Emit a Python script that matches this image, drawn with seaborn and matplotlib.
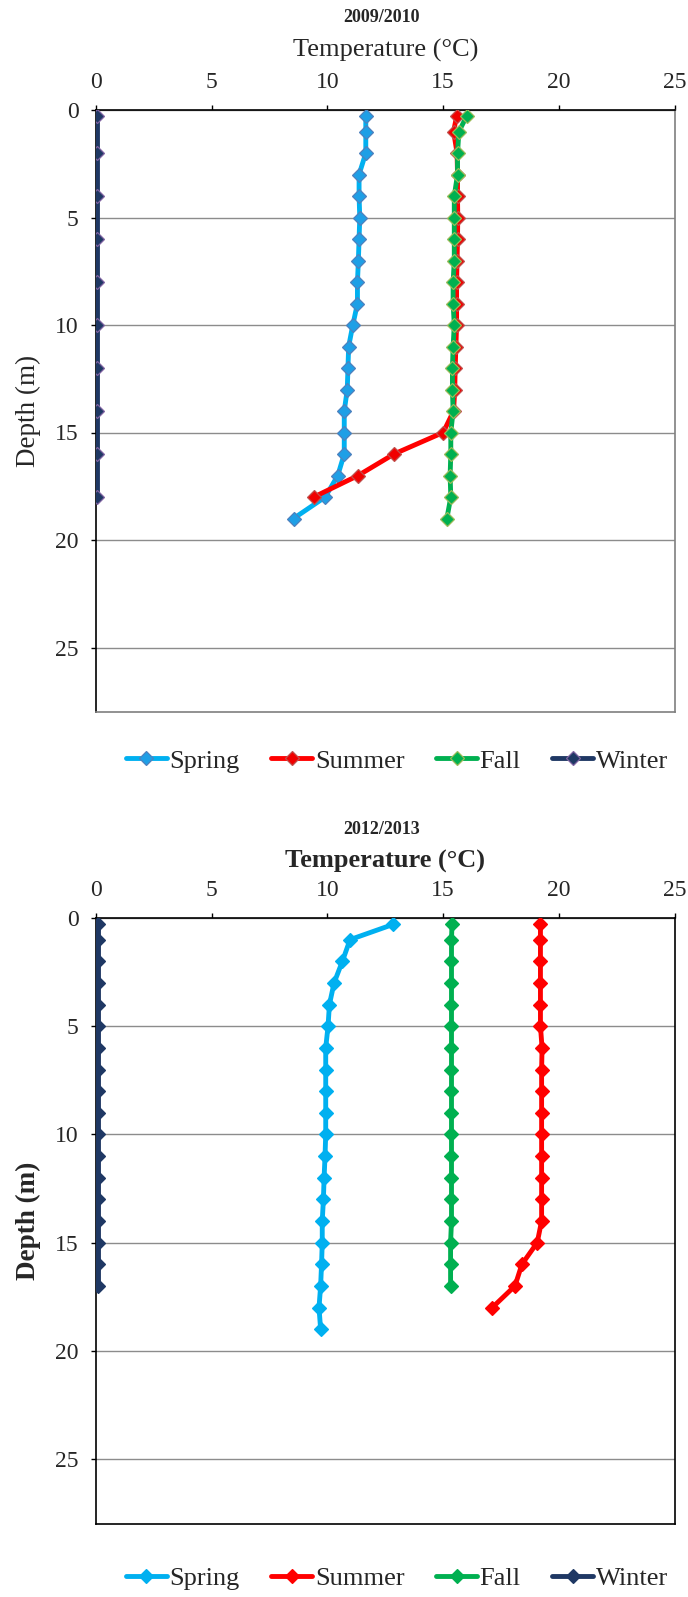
import numpy as np
import pandas as pd
import matplotlib
matplotlib.use("Agg")
import matplotlib.pyplot as plt
import seaborn as sns
from matplotlib.lines import Line2D

sns.set_theme(style="white")
plt.rcParams['font.family'] = ['Liberation Serif', 'DejaVu Serif']

seasons = ["Spring", "Summer", "Fall", "Winter"]

# 2009/2010 profiles: depth (m) and temperature (°C)
spring_09_depth = [0.3, 1, 2, 3, 4, 5, 6, 7, 8, 9, 10, 11, 12, 13, 14, 15, 16, 17, 18, 19]
spring_09_temp = [11.66, 11.66, 11.66, 11.37, 11.37, 11.40, 11.37, 11.34, 11.30, 11.30,
                  11.10, 10.92, 10.89, 10.86, 10.73, 10.73, 10.73, 10.45, 9.91, 8.54]
summer_09_depth = [0.3, 1, 2, 3, 4, 5, 6, 7, 8, 9, 10, 11, 12, 13, 14, 15, 16, 17, 18]
summer_09_temp = [15.58, 15.45, 15.60, 15.62, 15.62, 15.63, 15.62, 15.60, 15.58, 15.58,
                  15.58, 15.55, 15.52, 15.50, 15.45, 15.0, 12.88, 11.33, 9.42]
fall_09_depth = [0.3, 1, 2, 3, 4, 5, 6, 7, 8, 9, 10, 11, 12, 13, 14, 15, 16, 17, 18, 19]
fall_09_temp = [16.01, 15.68, 15.62, 15.62, 15.48, 15.48, 15.48, 15.48, 15.43, 15.43,
                15.48, 15.43, 15.40, 15.40, 15.43, 15.33, 15.33, 15.30, 15.33, 15.16]
winter_09_depth = [0.3, 2, 4, 6, 8, 10, 12, 14, 16, 18]
winter_09_temp = [0.06, 0.06, 0.06, 0.06, 0.06, 0.06, 0.06, 0.06, 0.06, 0.06]

# 2012/2013 profiles
spring_12_depth = [0.3, 1, 2, 3, 4, 5, 6, 7, 8, 9, 10, 11, 12, 13, 14, 15, 16, 17, 18, 19]
spring_12_temp = [12.83, 10.98, 10.65, 10.29, 10.09, 10.03, 9.93, 9.93, 9.93, 9.93,
                  9.93, 9.90, 9.86, 9.83, 9.78, 9.78, 9.75, 9.71, 9.64, 9.71]
summer_12_depth = [0.3, 1, 2, 3, 4, 5, 6, 7, 8, 9, 10, 11, 12, 13, 14, 15, 16, 17, 18]
summer_12_temp = [19.20, 19.20, 19.20, 19.20, 19.20, 19.20, 19.27, 19.25, 19.25, 19.25,
                  19.25, 19.25, 19.25, 19.25, 19.25, 19.06, 18.40, 18.10, 17.12]
fall_12_depth = [0.3, 1, 2, 3, 4, 5, 6, 7, 8, 9, 10, 11, 12, 13, 14, 15, 16, 17]
fall_12_temp = [15.38, 15.36, 15.36, 15.36, 15.36, 15.36, 15.36, 15.36, 15.36, 15.36,
                15.36, 15.36, 15.36, 15.36, 15.36, 15.32, 15.32, 15.32]
winter_12_depth = [0.3, 1, 2, 3, 4, 5, 6, 7, 8, 9, 10, 11, 12, 13, 14, 15, 16, 17]
winter_12_temp = [0.08] * 18

x_ticks = [0, 5, 10, 15, 20, 25]
y_ticks = [0, 5, 10, 15, 20, 25]

line_colors = {"Spring": "#00B0F0", "Summer": "#FF0000", "Fall": "#00B050", "Winter": "#1F3864"}
face_09 = {"Spring": "#1E9FE6", "Summer": "#F00000", "Fall": "#00B050", "Winter": "#1F3864"}
edge_09 = {"Spring": "#4F81BD", "Summer": "#C0504D", "Fall": "#9BBB59", "Winter": "#8064A2"}

panels = [
    ("2009/2010", {"Spring": (spring_09_depth, spring_09_temp),
                   "Summer": (summer_09_depth, summer_09_temp),
                   "Fall": (fall_09_depth, fall_09_temp),
                   "Winter": (winter_09_depth, winter_09_temp)}, False),
    ("2012/2013", {"Spring": (spring_12_depth, spring_12_temp),
                   "Summer": (summer_12_depth, summer_12_temp),
                   "Fall": (fall_12_depth, fall_12_temp),
                   "Winter": (winter_12_depth, winter_12_temp)}, True),
]

W, H = 688, 1597
fig = plt.figure(figsize=(W / 100, H / 100), dpi=100)

x0_px, x1_px = 95.7, 674.8
left = x0_px / W
width = (x1_px - x0_px) / W
axes_px = [(110, 712), (918, 1524)]
title_px = [17.5, 829.5]
xlabel_px = [50.0, 861.0]
legend_y = [761, 1578]
ylabel_x_px = 28.5

LW = 3.5
MS = 7.5

for (title, data, bold), (top_px, bot_px), ty, xly, ly in zip(panels, axes_px, title_px,
                                                              xlabel_px, legend_y):
    h_px = bot_px - top_px
    ax = fig.add_axes([left, 1 - bot_px / H, width, h_px / H])
    weight = "bold" if bold else "normal"
    for s in seasons:
        depth, temp = data[s]
        df = pd.DataFrame({"depth": depth, "temp": temp})
        fc = line_colors[s] if bold else face_09[s]
        ec = line_colors[s] if bold else edge_09[s]
        sns.lineplot(data=df, x="temp", y="depth", sort=False, orient="y", estimator=None,
                     color=line_colors[s], lw=LW, marker="D", markersize=MS,
                     markerfacecolor=fc, markeredgecolor=ec, markeredgewidth=0.9,
                     ax=ax, legend=False, zorder=3)
    ax.set_xlim(0, 25)
    ax.set_ylim(28, 0)
    ax.set_xticks(x_ticks)
    ax.set_yticks(y_ticks)
    ax.xaxis.tick_top()
    ax.xaxis.set_label_position("top")
    ax.tick_params(axis="both", which="major", labelsize=17, length=3.6, width=1,
                   color="black", direction="out", pad=8.7)
    ax.tick_params(axis="x", top=True, bottom=False)
    ax.tick_params(axis="y", left=True, right=False)

    ax.set_xlabel("Temperature (°C)", fontsize=19, fontweight=weight)
    ax.xaxis.set_label_coords(0.5, 1 + (top_px - xly) / h_px)
    ax.xaxis.label.set_va("center")
    ax.set_ylabel("Depth (m)", fontsize=19.5, fontweight=weight)
    ax.yaxis.set_label_coords((ylabel_x_px - x0_px) / (x1_px - x0_px), 0.5)
    ax.yaxis.label.set_va("center")

    fig.text((x0_px + x1_px) / 2 / W - 0.005, 1 - ty / H, title, fontsize=13,
             fontweight="bold", ha="center", va="center")

    ax.grid(axis="y", color="#8C8C8C", lw=1)
    ax.grid(axis="x", visible=False)
    ax.set_axisbelow(True)
    frame = "black" if bold else "#7F7F7F"
    for side in ["left", "top"]:
        ax.spines[side].set_color("black")
        ax.spines[side].set_linewidth(1.2)
    for side in ["right", "bottom"]:
        ax.spines[side].set_color(frame)
        ax.spines[side].set_linewidth(1.2)

    handles = []
    for s in seasons:
        fc = line_colors[s] if bold else face_09[s]
        ec = line_colors[s] if bold else edge_09[s]
        handles.append(Line2D([], [], color=line_colors[s], lw=LW, marker="D", markersize=MS,
                              markerfacecolor=fc, markeredgecolor=ec, markeredgewidth=0.9))
    fig.legend(handles, seasons, loc="center", bbox_to_anchor=(397 / W, 1 - ly / H),
               ncol=4, frameon=False, fontsize=19, handlelength=1.55, handletextpad=0.1,
               columnspacing=1.2)

fig.savefig("out.png", dpi=100)
